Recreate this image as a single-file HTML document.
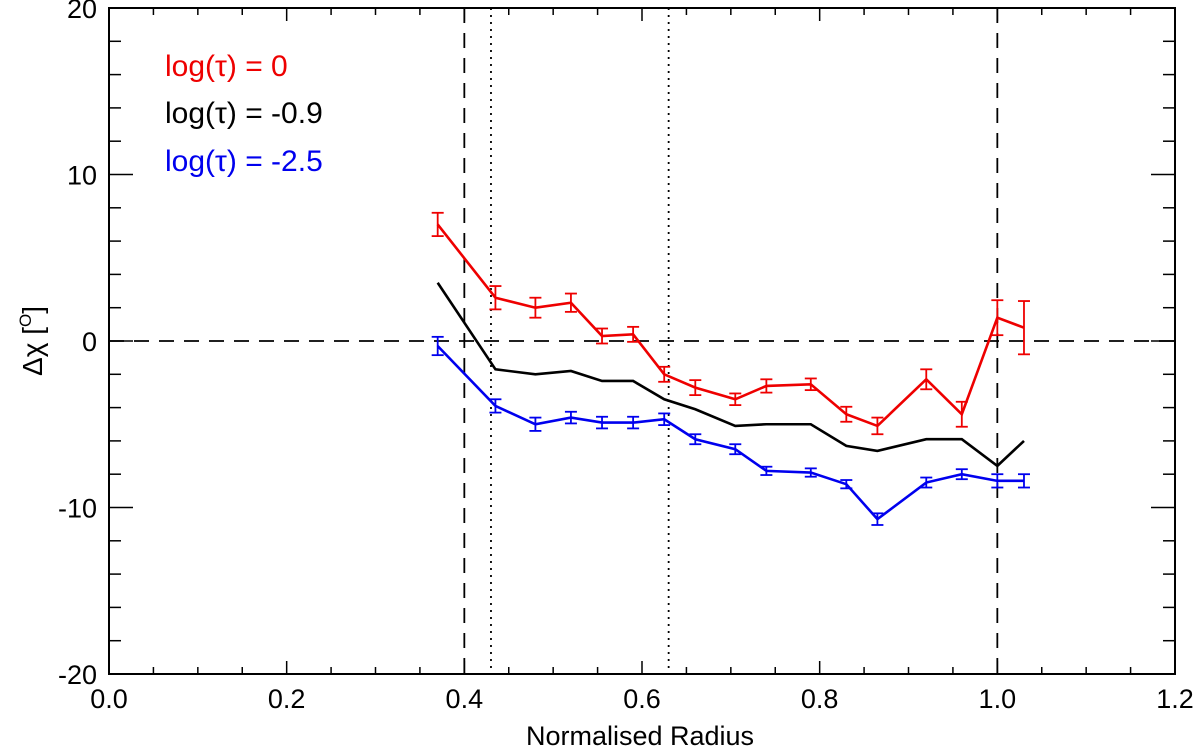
<!DOCTYPE html>
<html><head><meta charset="utf-8"><style>
body{margin:0;background:#fff;}
svg text{font-family:"Liberation Sans",sans-serif;}
</style></head><body>
<svg width="1200" height="748" id="c">
</svg>
<script>
const xs=[0.37,0.435,0.48,0.52,0.555,0.59,0.625,0.66,0.705,0.74,0.79,0.83,0.865,0.92,0.96,1.0,1.03];
const red=[7.0,2.6,2.0,2.3,0.3,0.4,-2.0,-2.8,-3.5,-2.7,-2.6,-4.4,-5.1,-2.3,-4.4,1.4,0.8];
const redErr=[0.7,0.7,0.6,0.55,0.45,0.45,0.45,0.45,0.35,0.4,0.35,0.45,0.5,0.6,0.75,1.05,1.6];
const black=[3.5,-1.7,-2.0,-1.8,-2.4,-2.4,-3.5,-4.1,-5.1,-5.0,-5.0,-6.3,-6.6,-5.9,-5.9,-7.5,-6.0];
const blue=[-0.3,-3.9,-5.0,-4.6,-4.9,-4.9,-4.7,-5.9,-6.5,-7.8,-7.9,-8.6,-10.7,-8.5,-8.0,-8.4,-8.4];
const blueErr=[0.55,0.4,0.4,0.35,0.35,0.35,0.35,0.3,0.3,0.25,0.25,0.25,0.35,0.3,0.3,0.4,0.4];
const xTicks=[0.0,0.2,0.4,0.6,0.8,1.0,1.2];
const yTicks=[-20,-10,0,10,20];
const L=109,R=1175,T=8,B=674;
const X=v=>L+(v-0)/1.2*(R-L);
const Y=v=>B-(v+20)/40*(B-T);
const svg=document.getElementById('c');
const NS='http://www.w3.org/2000/svg';
function el(t,a,p){const e=document.createElementNS(NS,t);for(const k in a)e.setAttribute(k,a[k]);(p||svg).appendChild(e);return e;}
const fr=el('rect',{x:L,y:T,width:R-L,height:B-T,fill:'none',stroke:'#000','stroke-width':2});


for(let v=0;v<=1.2001;v+=0.05){const major=Math.abs(v/0.2-Math.round(v/0.2))<1e-6;const len=major?13:7;const x=X(v);
el('line',{x1:x,x2:x,y1:B,y2:B-len,stroke:'#000','stroke-width':1.5});el('line',{x1:x,x2:x,y1:T,y2:T+len,stroke:'#000','stroke-width':1.5});}
for(let v=-20;v<=20;v+=2){const major=v%10===0;const len=major?24:12;const y=Y(v);
el('line',{x1:L,x2:L+len,y1:y,y2:y,stroke:'#000','stroke-width':1.5});el('line',{x1:R,x2:R-len,y1:y,y2:y,stroke:'#000','stroke-width':1.5});}
xTicks.forEach(v=>{const t=el('text',{x:X(v),y:708,'text-anchor':'middle','font-size':27});t.textContent=v.toFixed(1);

});
yTicks.forEach(v=>{const t=el('text',{x:97,y:Y(v)+10,'text-anchor':'end','font-size':27});t.textContent=v;

});
el('line',{x1:L,x2:R,y1:Y(0),y2:Y(0),stroke:'#000','stroke-width':1.8,'stroke-dasharray':'15,10'});
[0.4,1.0].forEach(v=>el('line',{x1:X(v),x2:X(v),y1:T,y2:B,stroke:'#000','stroke-width':1.8,'stroke-dasharray':'15,10'}));
[0.43,0.63].forEach(v=>el('line',{x1:X(v),x2:X(v),y1:T,y2:B,stroke:'#000','stroke-width':1.8,'stroke-dasharray':'2,5'}));
function series(vals,err,col,name){
const p=el('polyline',{points:xs.map((x,i)=>X(x)+','+Y(vals[i])).join(' '),fill:'none',stroke:col,'stroke-width':2.6});


if(err)xs.forEach((x,i)=>{const cx=X(x),y1=Y(vals[i]+err[i]),y2=Y(vals[i]-err[i]);
const g=el('g',{stroke:col,'stroke-width':1.8});


el('line',{x1:cx,x2:cx,y1:y1,y2:y2},g);el('line',{x1:cx-6,x2:cx+6,y1:y1,y2:y1},g);el('line',{x1:cx-6,x2:cx+6,y1:y2,y2:y2},g);});}
series(red,redErr,'#ee0000','red-series');
series(black,null,'#000','black-series');
series(blue,blueErr,'#0000ee','blue-series');
[['log(τ) = 0','#ee0000',76],['log(τ) = -0.9','#000',123],['log(τ) = -2.5','#0000ee',171]].forEach(([s,c,y])=>{
const t=el('text',{x:165,y:y,'font-size':30,fill:c});t.textContent=s;

});
const xl=el('text',{x:640,y:745,'text-anchor':'middle','font-size':27});xl.textContent='Normalised Radius';


const yl=el('text',{x:0,y:0,'text-anchor':'middle','font-size':28,transform:'translate(42,341) rotate(-90)'});
yl.innerHTML='Δχ [<tspan font-size="17" dy="-11">O</tspan><tspan dy="11">]</tspan>';


</script>
</body></html>
